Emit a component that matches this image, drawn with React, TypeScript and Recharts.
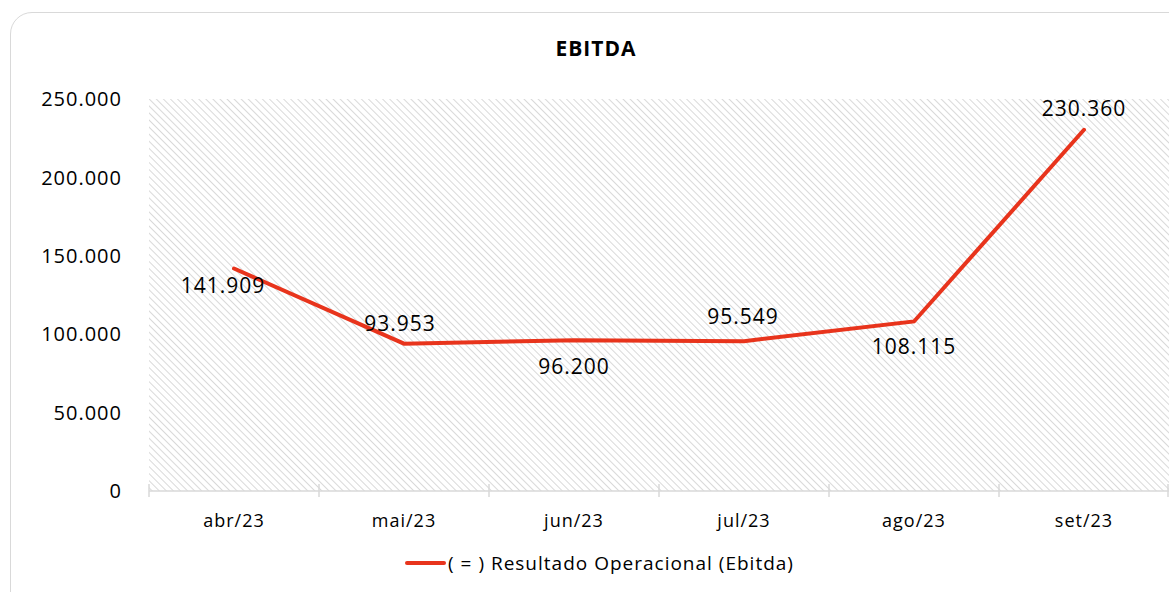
import React from "react";
import { LineChart, Line, XAxis, YAxis, CartesianGrid, Legend, LabelList } from "recharts";

const months = ["abr/23", "mai/23", "jun/23", "jul/23", "ago/23", "set/23"];
const ebitda = [141909, 93953, 96200, 95549, 108115, 230360];
const yTicks = [0, 50000, 100000, 150000, 200000, 250000];
// where each value label sits relative to its point (excel places them this way)
const labelOffsets = [
  [-11, 17],
  [-4, -21],
  [0, 26],
  [-1, -25],
  [0, 25],
  [0, -22],
];

const data = months.map((name, i) => ({ name, value: ebitda[i] }));

const fmt = (v: number) => v.toLocaleString("de-DE");

const FONT = "'Open Sans', sans-serif";
const RED = "#e8341c";
const HALF_BAND = 85;

const MonthTick = (props: any) => {
  const { x, y, payload, index } = props;
  const axisY = y - 23;
  return (
    <g>
      <line x1={x - HALF_BAND} x2={x - HALF_BAND} y1={axisY - 7} y2={axisY + 6} stroke="#d9d9d9" strokeWidth={1.5} />
      {index === months.length - 1 && (
        <line x1={x + HALF_BAND - 1} x2={x + HALF_BAND - 1} y1={axisY - 7} y2={axisY + 6} stroke="#d9d9d9" strokeWidth={1.5} />
      )}
      <text
        x={x}
        y={y}
        dy="0.71em"
        textAnchor="middle"
        fill="#000"
        fontSize={18}
        letterSpacing={1}
        fontFamily={FONT}
      >
        {payload.value}
      </text>
    </g>
  );
};

const ValueLabel = (props: any) => {
  const { x, y, value, index } = props;
  const [dx, dy] = labelOffsets[index] || [0, -20];
  return (
    <text
      x={x + dx}
      y={y + dy}
      dominantBaseline="central"
      textAnchor="middle"
      fill="#000"
      fontSize={21}
      letterSpacing={1}
      fontFamily={FONT}
    >
      {fmt(value)}
    </text>
  );
};

const LegendContent = () => (
  <div
    style={{
      display: "flex",
      justifyContent: "center",
      alignItems: "center",
      height: 50,
      paddingLeft: 30,
      fontFamily: FONT,
      fontSize: 19,
      letterSpacing: 1,
      color: "#000",
    }}
  >
    <span style={{ display: "inline-block", width: 41, height: 4, background: RED, borderRadius: 2, marginRight: 2 }} />
    <span>( = ) Resultado Operacional (Ebitda)</span>
  </div>
);

export default function App() {
  return (
    <div style={{ position: "absolute", left: 0, top: 0, width: 1169, height: 592, background: "#fff", overflow: "hidden" }}>
      <div
        style={{
          position: "absolute",
          left: 10,
          top: 12,
          width: 1200,
          height: 620,
          border: "1.5px solid #d9d9d9",
          borderRadius: 22,
        }}
      />
      <div
        style={{
          position: "absolute",
          left: 0,
          top: 34,
          width: 1192,
          textAlign: "center",
          fontFamily: FONT,
          fontWeight: 700,
          fontSize: 21,
          letterSpacing: 1,
          color: "#000",
        }}
      >
        EBITDA
      </div>
      <div style={{ position: "absolute", left: 0, top: 0 }}>
        <LineChart width={1169} height={592} data={data} margin={{ top: 99, right: 0, bottom: 4, left: 0 }}>
          <defs>
            <pattern id="hatch" width="5" height="5" patternUnits="userSpaceOnUse" patternTransform="rotate(-45)">
              <line x1="0" y1="0" x2="0" y2="5" stroke="#d9d9d9" strokeWidth={2} />
            </pattern>
          </defs>
          <CartesianGrid fill="url(#hatch)" horizontal={false} vertical={false} />
          <XAxis
            dataKey="name"
            scale="band"
            height={47}
            axisLine={{ stroke: "#d9d9d9", strokeWidth: 1.5 }}
            tickLine={false}
            tickSize={6}
            tickMargin={17}
            interval={0}
            tick={<MonthTick />}
          />
          <YAxis
            width={149}
            domain={[0, 250000]}
            ticks={yTicks}
            axisLine={false}
            tickLine={false}
            tickSize={0}
            tickMargin={27}
            tickFormatter={fmt}
            tick={{ fill: "#000", fontSize: 20, letterSpacing: 1, fontFamily: FONT }}
          />
          <Legend verticalAlign="bottom" height={50} content={<LegendContent />} />
          <Line
            type="linear"
            dataKey="value"
            stroke={RED}
            strokeWidth={4}
            strokeLinecap="round"
            dot={false}
            activeDot={false}
            isAnimationActive={false}
          >
            <LabelList dataKey="value" content={<ValueLabel />} />
          </Line>
        </LineChart>
      </div>
    </div>
  );
}
